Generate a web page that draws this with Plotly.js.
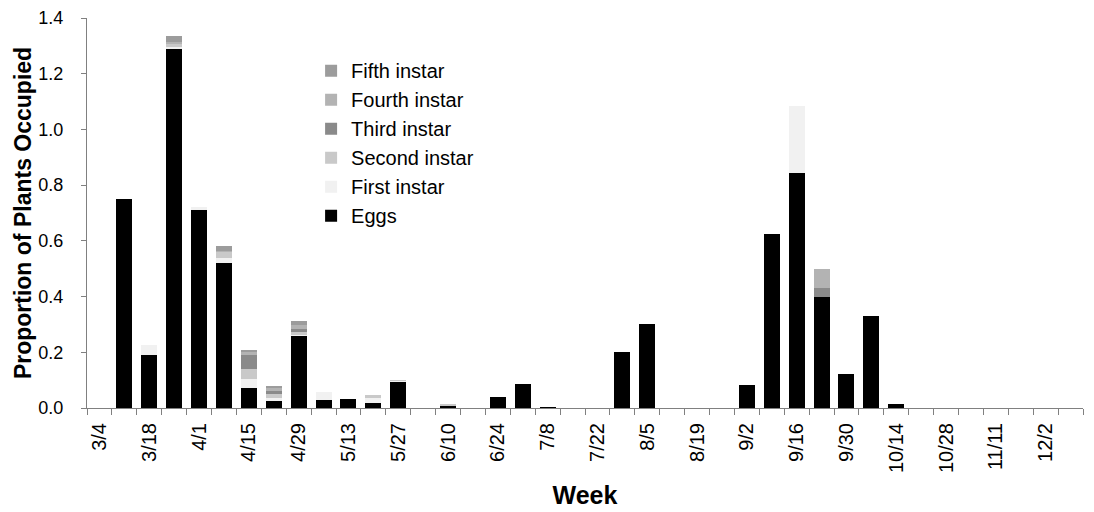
<!DOCTYPE html>
<html>
<head>
<meta charset="utf-8">
<script src="https://cdn.plot.ly/plotly-3.0.1.min.js"></script>
<style>html,body{margin:0;padding:0;background:#fff;}#chart{width:1094px;height:512px;}</style>
</head>
<body>
<div id="chart"></div>
<script>
const weeks = ["3/4","3/11","3/18","3/25","4/1","4/8","4/15","4/22","4/29","5/6","5/13","5/20","5/27","6/3","6/10","6/17","6/24","7/1","7/8","7/15","7/22","7/29","8/5","8/12","8/19","8/26","9/2","9/9","9/16","9/23","9/30","10/7","10/14","10/21","10/28","11/4","11/11","11/18","11/25","12/2"];
const tickLabels = ["3/4","","3/18","","4/1","","4/15","","4/29","","5/13","","5/27","","6/10","","6/24","","7/8","","7/22","","8/5","","8/19","","9/2","","9/16","","9/30","","10/14","","10/28","","11/11","","12/2",""];
const eggs   = [0,0.75,0.19,1.29,0.71,0.52,0.073,0.026,0.257,0.03,0.034,0.019,0.092,0,0.008,0,0.041,0.087,0.005,0,0,0.2,0.3,0,0,0,0.084,0.624,0.842,0.398,0.123,0.329,0.013,0,0,0,0,0,0,0];
const first  = [0,0,0.036,0.005,0.012,0.02,0.032,0.01,0.005,0.027,0,0.018,0.004,0,0,0,0,0,0,0,0,0,0,0,0,0,0,0,0.242,0,0,0,0,0,0,0,0,0,0,0];
const second = [0,0,0,0.01,0,0.02,0.036,0.015,0.01,0,0,0.01,0.005,0,0.008,0,0,0,0,0,0,0,0,0,0,0,0,0,0,0,0,0,0,0,0,0,0,0,0,0];
const third  = [0,0,0,0,0,0,0.048,0.01,0.01,0,0,0,0,0,0,0,0,0,0,0,0,0,0,0,0,0,0,0,0,0.032,0,0,0,0,0,0,0,0,0,0];
const fourth = [0,0,0,0.01,0,0.005,0.011,0.01,0.015,0,0,0,0,0,0,0,0,0,0,0,0,0,0,0,0,0,0,0,0,0.069,0,0,0,0,0,0,0,0,0,0];
const fifth  = [0,0,0,0.02,0,0.015,0.01,0.007,0.015,0,0,0,0,0,0,0,0,0,0,0,0,0,0,0,0,0,0,0,0,0,0,0,0,0,0,0,0,0,0,0];

const series = [
  {name:"Eggs", y:eggs, color:"#000000"},
  {name:"First instar", y:first, color:"#f1f1f1"},
  {name:"Second instar", y:second, color:"#c9c9c9"},
  {name:"Third instar", y:third, color:"#8a8a8a"},
  {name:"Fourth instar", y:fourth, color:"#b3b3b3"},
  {name:"Fifth instar", y:fifth, color:"#9c9c9c"}
];
const traces = series.map(s => ({
  type:"bar", x:weeks, y:s.y, name:s.name,
  marker:{color:s.color, line:{width:0}}
}));
const font = "Liberation Sans, Arial, sans-serif";
const layout = {
  width:1094, height:512,
  margin:{l:87, r:11, t:18, b:104},
  paper_bgcolor:"#fff", plot_bgcolor:"#fff",
  barmode:"stack", bargap:0.36,
  font:{family:font, size:16, color:"#000"},
  showlegend:true,
  legend:{x:0.225, y:0.915, xanchor:"left", yanchor:"top", traceorder:"reversed",
          font:{family:font, size:20, color:"#000"}, bgcolor:"rgba(0,0,0,0)", tracegroupgap:0},
  xaxis:{type:"category", tickmode:"array", tickvals:weeks, ticktext:tickLabels,
         tickson:"boundaries", ticks:"outside", ticklen:6, tickcolor:"#808080",
         showline:true, linecolor:"#808080", linewidth:1, showgrid:false, zeroline:false,
         tickangle:-90, tickfont:{size:20, family:font}, ticklabelstandoff:6,
         title:{text:"<b>Week</b>", font:{size:25, family:font}, standoff:14}},
  yaxis:{range:[0,1.4], dtick:0.2, tickformat:".1f", ticks:"outside", ticklen:5,
         tickcolor:"#808080", showline:true, linecolor:"#808080", linewidth:1,
         showgrid:false, zeroline:false, tickfont:{size:18, family:font}, ticklabelstandoff:14,
         title:{text:"<b>Proportion of Plants Occupied</b>", font:{size:23, family:font}, standoff:0}}
};
Plotly.newPlot("chart", traces, layout, {displayModeBar:false, staticPlot:true});
</script>
</body>
</html>
